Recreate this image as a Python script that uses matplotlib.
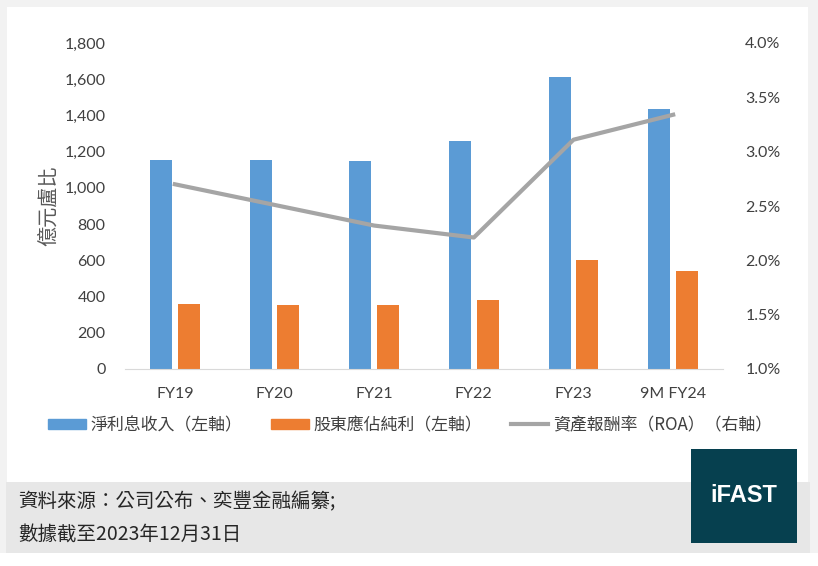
import matplotlib
matplotlib.use("Agg")
import matplotlib.pyplot as plt
from matplotlib.patches import Rectangle, Patch
from matplotlib.lines import Line2D
from matplotlib.ticker import FuncFormatter, MultipleLocator

plt.rcParams["font.family"] = ["Lato", "Noto Sans CJK TC", "DejaVu Sans"]
CJK = ["Noto Sans CJK TC", "DejaVu Sans"]

# data
categories = ["FY19", "FY20", "FY21", "FY22", "FY23", "9M FY24"]
net_interest = [1154, 1155, 1148, 1259, 1612, 1436]      # 億元盧比
net_profit = [359, 353, 353, 381, 602, 541]              # 億元盧比
roa = [2.70, 2.51, 2.32, 2.21, 3.11, 3.34]               # %

C_BLUE, C_ORANGE, C_GREY = "#5b9bd5", "#ed7d31", "#a5a5a5"
C_TEXT = "#404040"

fig = plt.figure(figsize=(8.18, 5.66), dpi=100)
fig.patch.set_facecolor("#f2f2f2")

# white card + grey footer band + logo
fig.add_artist(Rectangle((7 / 818, 1 - 482 / 566), 801 / 818, 475 / 566,
                         transform=fig.transFigure, fc="white", ec="none", zorder=0))
fig.add_artist(Rectangle((6 / 818, 1 - 553 / 566), 804 / 818, 71 / 566,
                         transform=fig.transFigure, fc="#e7e7e7", ec="none", zorder=0))
fig.add_artist(Rectangle((0, 0), 1, 1 - 553 / 566,
                         transform=fig.transFigure, fc="white", ec="none", zorder=0))
fig.add_artist(Rectangle((691 / 818, 1 - 543 / 566), 106 / 818, 94 / 566,
                         transform=fig.transFigure, fc="#06404f", ec="none", zorder=1))
fig.text(744 / 818, 1 - 496 / 566, "iFAST", color="white", fontsize=17, fontweight="bold",
         family=["Liberation Sans", "DejaVu Sans"], ha="center", va="center")

ax = fig.add_axes([125 / 818, 1 - 369 / 566, 598 / 818, 326 / 566])
ax.set_facecolor("none")
x = list(range(len(categories)))
w = 0.22
ax.bar([i - 0.14 for i in x], net_interest, width=w, color=C_BLUE, zorder=2)
ax.bar([i + 0.14 for i in x], net_profit, width=w, color=C_ORANGE, zorder=2)
ax.set_xlim(-0.5, len(categories) - 0.5)
ax.set_ylim(0, 1800)
ax.yaxis.set_major_locator(MultipleLocator(200))
ax.yaxis.set_major_formatter(FuncFormatter(lambda v, p: f"{v:,.0f}"))
ax.set_xticks(x)
ax.set_xticklabels(categories)
for s in ["top", "right", "left"]:
    ax.spines[s].set_visible(False)
ax.spines["bottom"].set_color("#d9d9d9")
ax.tick_params(length=0, labelsize=11.5, colors=C_TEXT)
ax.tick_params(axis="y", pad=14)
ax.tick_params(axis="x", pad=13)
ax.set_ylabel("億元盧比", family=CJK, fontsize=14.5, color="#595959", labelpad=4)

ax2 = ax.twinx()
ax2.plot(x, roa, color=C_GREY, lw=3, zorder=3)
ax2.set_ylim(1.0, 4.0)
ax2.yaxis.set_major_locator(MultipleLocator(0.5))
ax2.yaxis.set_major_formatter(FuncFormatter(lambda v, p: f"{v:.1f}%"))
for s in ["top", "right", "left", "bottom"]:
    ax2.spines[s].set_visible(False)
ax2.tick_params(length=0, labelsize=11.5, colors=C_TEXT, pad=16)

handles = [Patch(color=C_BLUE), Patch(color=C_ORANGE), Line2D([], [], color=C_GREY, lw=3)]
labels = ["淨利息收入（左軸）", "股東應佔純利（左軸）", "資產報酬率（ROA）（右軸）"]
leg = fig.legend(handles, labels, loc="center left", bbox_to_anchor=(33 / 818, 1 - 425 / 566),
                 ncol=3, frameon=False, prop={"family": CJK, "size": 12.2},
                 handlelength=2.2, handleheight=0.55, handletextpad=0.3, columnspacing=1.7)
for t in leg.get_texts():
    t.set_color(C_TEXT)

fig.text(18 / 818, 1 - 502 / 566, "資料來源：公司公布、奕豐金融編纂;", family=CJK,
         fontsize=14, color="#262626", va="center")
fig.text(18 / 818, 1 - 535 / 566, "數據截至2023年12月31日", family=CJK,
         fontsize=14, color="#262626", va="center")

fig.savefig("out.png", dpi=100)
